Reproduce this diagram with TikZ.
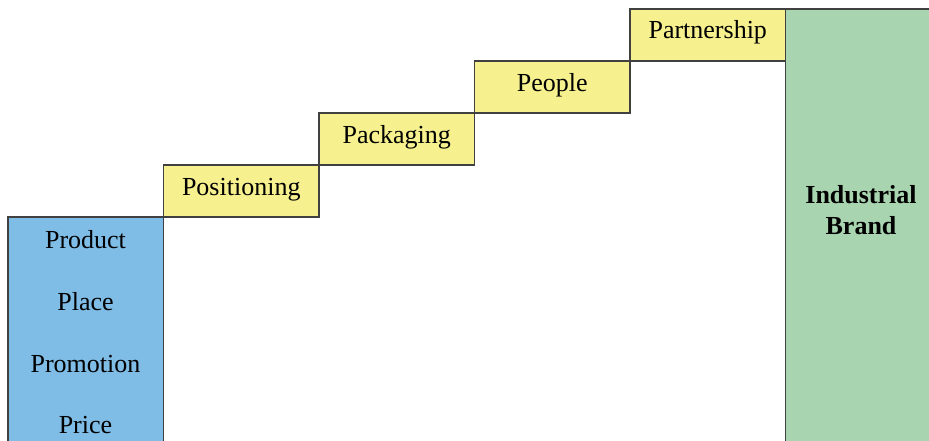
\documentclass[tikz,border=0pt]{standalone}
\usepackage{fontspec}
\setmainfont{Liberation Serif}
\usetikzlibrary{positioning}

\definecolor{mixblue}{HTML}{7FBCE6}
\definecolor{stepyellow}{HTML}{F6F08E}
\definecolor{brandgreen}{HTML}{A8D5B0}

\tikzset{
  Box/.style={draw=black!75, line width=0.7pt, minimum width=77.75pt, inner sep=0pt, outer sep=0pt},
  StepBox/.style={Box, fill=stepyellow, minimum height=26pt, anchor=south west,
    font=\fontsize{13}{15}\selectfont, text height=9pt, text depth=5pt},
  MixText/.style={font=\fontsize{13}{15}\selectfont, text height=9pt, text depth=3pt},
  BrandText/.style={align=center, font=\fontsize{13}{15.5}\selectfont\bfseries}
}

\begin{document}
\begin{tikzpicture}[x=0.5pt, y=0.5pt]
  \useasboundingbox (0,0) rectangle (929,440);
  \clip (0,0) rectangle (929,440);
  % marketing mix on the left
  \node[Box, fill=mixblue, minimum height=150pt, anchor=north west] (Mix) at (8,223) {};
  \node[MixText] (Product) at (85.5,198) {Product};
  \node[MixText] (Place) at (85.5,136) {Place};
  \node[MixText] (Promotion) at (85.5,74) {Promotion};
  \node[MixText] (Price) at (85.5,13) {Price};
  % the steps
  \node[StepBox] (Positioning) at (Mix.north east) {Positioning};
  \node[StepBox] (Packaging) at (Positioning.north east) {Packaging};
  \node[StepBox] (People) at (Packaging.north east) {People};
  \node[StepBox] (Partnership) at (People.north east) {Partnership};
  % brand
  \node[Box, fill=brandgreen, minimum height=250pt, anchor=north west] (Brand) at (Partnership.north east) {};
  \node[BrandText] (BrandLabel) at (861,230) {Industrial\\Brand};
\end{tikzpicture}
\end{document}
